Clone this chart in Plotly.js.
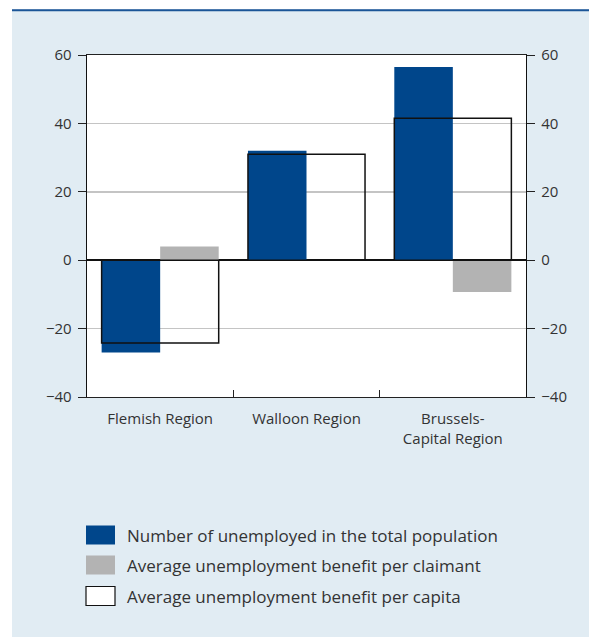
<!DOCTYPE html>
<html>
<head>
<meta charset="utf-8">
<script src="https://cdn.plot.ly/plotly-3.0.1.min.js"></script>
<style>html,body{margin:0;padding:0;background:#fff}#chart{width:589px;height:637px}</style>
</head>
<body>
<div id="chart"></div>
<script>
var categories = ["Flemish Region", "Walloon Region", "Brussels-<br>Capital Region"];
var seriesNames = ["Number of unemployed in the total population", "Average unemployment benefit per claimant", "Average unemployment benefit per capita"];
var unemployed = [-27, 32, 56.5];
var benefitPerClaimant = [4, 0, -9.3];
var benefitPerCapita = [-24.2, 31, 41.5];
var yTicks = [-40, -20, 0, 20, 40, 60];

var BLUE = "#00468b", GREY = "#b3b3b3", BG = "#e1ecf3", TXT = "#333333";
var FONT = "Open Sans, Noto Sans, sans-serif";
var W = 589, H = 637, ML = 87, MR = 63, MT = 55, MB = 240;
var PW = W - ML - MR, PH = H - MT - MB;
function px(x){ return (x - ML) / PW; }
function py(y){ return 1 - (y - MT) / PH; }

var traces = [
  {type: "bar", x: categories, y: unemployed, name: seriesNames[0], offset: -0.4, width: 0.4,
   marker: {color: BLUE, line: {width: 0}}, showlegend: false, hoverinfo: "skip"},
  {type: "bar", x: categories, y: benefitPerClaimant, name: seriesNames[1], offset: 0, width: 0.4,
   marker: {color: GREY, line: {width: 0}}, showlegend: false, hoverinfo: "skip"},
  {type: "bar", x: categories, y: benefitPerCapita, name: seriesNames[2], offset: -0.4, width: 0.8,
   yaxis: "y2", marker: {color: "rgba(0,0,0,0)", line: {color: "#111", width: 1.5}}, showlegend: false, hoverinfo: "skip"}
];

var shapes = [
  {type: "rect", xref: "paper", yref: "paper", x0: px(-5), x1: px(12), y0: py(700), y1: py(-5), fillcolor: "#ffffff", line: {width: 0}, layer: "above"},
  {type: "rect", xref: "paper", yref: "paper", x0: px(-5), x1: px(600), y0: py(9), y1: py(-5), fillcolor: "#ffffff", line: {width: 0}, layer: "above"},
  {type: "line", xref: "paper", yref: "paper", x0: px(12), x1: px(600), y0: py(10.2), y1: py(10.2), line: {color: "#1b5597", width: 2}, layer: "above"}
];
var legendColors = [BLUE, GREY, "#ffffff"];
var legendRows = [535, 565, 596];
var annotations = [];
for (var i = 0; i < 3; i++) {
  shapes.push({type: "rect", xref: "paper", yref: "paper",
    x0: px(86), x1: px(115), y0: py(legendRows[i] - 9.5), y1: py(legendRows[i] + 9.5),
    fillcolor: legendColors[i], line: {color: i === 2 ? "#111" : legendColors[i], width: i === 2 ? 1.2 : 0}, layer: "above"});
  annotations.push({xref: "paper", yref: "paper", x: px(125), y: py(legendRows[i]), xanchor: "left", yanchor: "middle",
    text: seriesNames[i], showarrow: false, font: {family: FONT, size: 17, color: TXT}});
}

var yax = {range: [-40, 60], tickvals: yTicks, ticks: "outside", ticklen: 8, tickcolor: "#222", tickwidth: 1,
  ticklabelstandoff: 3,
  showline: true, linecolor: "#111", linewidth: 1.3, showgrid: true, gridcolor: "#c4c4c4", gridwidth: 1.5,
  zeroline: true, zerolinecolor: "#111", zerolinewidth: 1.5, fixedrange: true,
  tickfont: {family: FONT, size: 15, color: TXT}};
var yax2 = JSON.parse(JSON.stringify(yax));
yax2.overlaying = "y"; yax2.side = "right"; yax2.showgrid = false; yax2.zeroline = false;

var layout = {
  width: W, height: H,
  margin: {l: ML, r: MR, t: MT, b: MB, pad: 0},
  paper_bgcolor: BG, plot_bgcolor: "#ffffff",
  barmode: "overlay",
  showlegend: false,
  xaxis: {type: "category", range: [-0.5, 2.5], tickson: "boundaries", ticks: "inside", ticklen: 7, tickcolor: "#222",
    ticklabelstandoff: 8,
    showline: true, mirror: true, linecolor: "#222", linewidth: 1.3, showgrid: false, fixedrange: true,
    tickfont: {family: FONT, size: 15, color: TXT}},
  yaxis: yax,
  yaxis2: yax2,
  shapes: shapes,
  annotations: annotations,
  font: {family: FONT, color: TXT}
};
Plotly.newPlot("chart", traces, layout, {displayModeBar: false, staticPlot: true});
</script>
</body>
</html>
